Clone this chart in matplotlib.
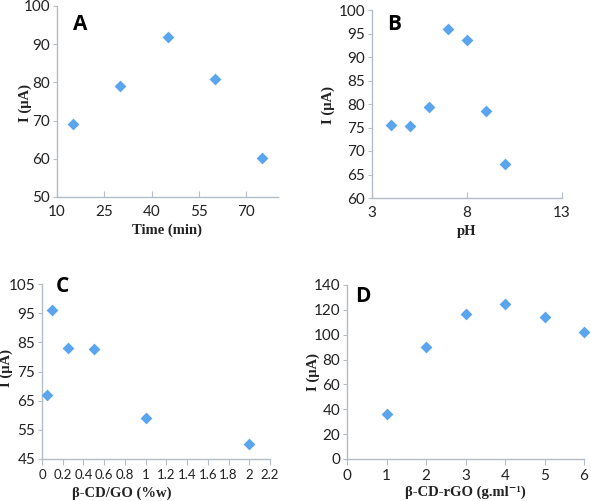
import matplotlib
matplotlib.use("Agg")
import matplotlib.pyplot as plt

# Panel A
time_min = [15, 30, 45, 60, 75]
current_a = [69, 79, 92, 81, 60.2]
# Panel B
ph = [4, 5, 6, 7, 8, 9, 10]
current_b = [75.6, 75.3, 79.3, 96, 93.7, 78.5, 67.3]
# Panel C
cd_go = [0.05, 0.1, 0.25, 0.5, 1, 2]
current_c = [67, 96, 83.2, 82.8, 59, 50]
# Panel D
cd_rgo = [1, 2, 3, 4, 5, 6]
current_d = [36.5, 90, 117, 124.5, 114, 102]

W, H = 591, 501
fig = plt.figure(figsize=(W / 100, H / 100), dpi=100)

def box(l, r, t, b):
    return [l / W, 1 - b / H, (r - l) / W, (b - t) / H]

spine_col = "#b4bcc6"
marker_col = "#5aa5ee"
tick_family = ["Lato", "DejaVu Sans"]
label_family = ["Liberation Serif", "DejaVu Serif"]

panels = [
    dict(rect=box(57, 278, 6, 197), xs=time_min, ys=current_a, xl=(10, 80), xt=[10, 25, 40, 55, 70],
         yl=(50, 100), yt=range(50, 101, 10), xlabel="Time (min)", letter="A", tdir="in",
         xlab_pos=(167, 230), ylab_pos=(25, 103), let_pos=(80, 25), xfs=11),
    dict(rect=box(372, 562, 10, 198), xs=ph, ys=current_b, xl=(3, 13), xt=[3, 8, 13],
         yl=(60, 100), yt=range(60, 101, 5), xlabel="pH", letter="B", tdir="in",
         xlab_pos=(467, 232), ylab_pos=(328, 105), let_pos=(394, 25), xfs=11),
    dict(rect=box(42, 270, 284, 459), xs=cd_go, ys=current_c, xl=(0, 2.2),
         xt=[round(0.2 * i, 1) for i in range(12)], yl=(45, 105), yt=range(45, 106, 10),
         xlabel="β-CD/GO (%w)", letter="C", tdir="out",
         xlab_pos=(122, 493), ylab_pos=(6, 368), let_pos=(62, 287), xfs=9.5),
    dict(rect=box(347, 584, 285, 459), xs=cd_rgo, ys=current_d, xl=(0, 6), xt=range(0, 7),
         yl=(0, 140), yt=range(0, 141, 20), xlabel="β-CD-rGO (g.ml⁻¹)", letter="D", tdir="out",
         xlab_pos=(465, 492), ylab_pos=(313, 372), let_pos=(363, 296), xfs=11),
]

for p in panels:
    ax = fig.add_axes(p["rect"])
    ax.scatter(p["xs"], p["ys"], marker="D", s=36, color=marker_col, zorder=3, clip_on=False, linewidths=0)
    ax.set_xlim(*p["xl"])
    ax.set_ylim(*p["yl"])
    ax.set_xticks(list(p["xt"]))
    ax.set_yticks(list(p["yt"]))
    ax.set_xticklabels([f"{v:g}" for v in p["xt"]])
    for s in ["top", "right"]:
        ax.spines[s].set_visible(False)
    for s in ["left", "bottom"]:
        ax.spines[s].set_color(spine_col)
        ax.spines[s].set_linewidth(1.0)
    ax.tick_params(axis="y", colors=spine_col, labelcolor="#222222", length=3, width=0.8,
                   direction="out", pad=2)
    ax.tick_params(axis="x", colors=spine_col, labelcolor="#222222", length=4, width=0.8,
                   direction=p["tdir"], pad=6 if p["tdir"] == "in" else 3)
    for lab in ax.get_yticklabels():
        lab.set_fontfamily(tick_family)
        lab.set_fontsize(11)
    for lab in ax.get_xticklabels():
        lab.set_fontfamily(tick_family)
        lab.set_fontsize(p["xfs"])
    fig.text(p["xlab_pos"][0] / W, 1 - p["xlab_pos"][1] / H, p["xlabel"], ha="center", va="center",
             family=label_family, weight="bold", size=10.5, color="#222222")
    fig.text(p["ylab_pos"][0] / W, 1 - p["ylab_pos"][1] / H, "I (μA)", ha="center", va="center",
             rotation=90, family=label_family, weight="bold", size=10.5, color="#222222")
    fig.text(p["let_pos"][0] / W, 1 - p["let_pos"][1] / H, p["letter"], ha="center", va="center",
             family=["Open Sans", "DejaVu Sans"], weight="bold", size=15, color="black")

fig.savefig("out.png", dpi=100)
